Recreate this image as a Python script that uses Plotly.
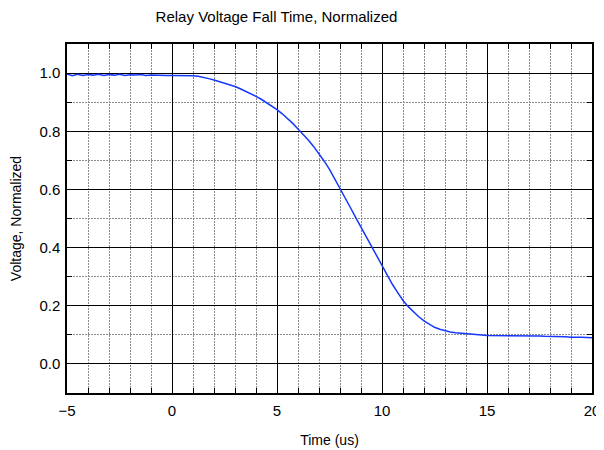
import plotly.graph_objects as go

time_us = [-5 + 0.25 * i for i in range(101)]
voltage = [
    0.997, 0.991, 0.996, 0.992, 0.995, 0.993, 0.996, 0.992, 0.995, 0.993,
    0.996, 0.992, 0.994, 0.993, 0.995, 0.992, 0.993, 0.992, 0.993, 0.992,
    0.992, 0.992, 0.992, 0.992, 0.991,
    0.989, 0.986, 0.981, 0.976, 0.971, 0.966, 0.960, 0.954, 0.946, 0.938,
    0.929, 0.920, 0.910, 0.899, 0.887, 0.874, 0.860, 0.845, 0.827, 0.808,
    0.789, 0.769, 0.747, 0.724, 0.697, 0.669, 0.637, 0.603, 0.570, 0.537,
    0.503, 0.470, 0.436, 0.402, 0.369, 0.336, 0.303, 0.273, 0.245, 0.218,
    0.197, 0.178, 0.162, 0.148, 0.136, 0.126, 0.119, 0.114, 0.110, 0.107,
    0.105, 0.103, 0.101, 0.100, 0.099, 0.098, 0.098, 0.098, 0.097, 0.097,
    0.097, 0.098, 0.097, 0.097, 0.096, 0.096, 0.095, 0.095, 0.094, 0.095,
    0.093, 0.092, 0.093, 0.092, 0.091, 0.090,
]

title_text = "Relay Voltage Fall Time, Normalized"
x_title = "Time (us)"
y_title = "Voltage, Normalized"

fig = go.Figure()
fig.add_trace(go.Scatter(x=time_us, y=voltage, mode="lines",
                         line=dict(color="#1438ff", width=1.5),
                         showlegend=False))

font = "Liberation Sans, Arial, sans-serif"
axis_common = dict(
    showline=True, linecolor="black", linewidth=1.5, mirror="allticks",
    ticks="inside", ticklen=9, tickcolor="black", tickwidth=1.2,
    showgrid=True, gridcolor="black", gridwidth=1,
    zeroline=False, automargin=False,
    tickfont=dict(family=font, size=15, color="black"),
)
minor_common = dict(ticks="inside", ticklen=5, tickcolor="black", tickwidth=1,
                    showgrid=True, gridcolor="#8c8c8c", griddash="2px,1px", gridwidth=1)

fig.update_xaxes(
    range=[-5, 20], tick0=-5, dtick=5, ticklabelstandoff=3,
    title=dict(text=x_title, font=dict(family=font, size=14, color="black"), standoff=17),
    minor=dict(dtick=1, **minor_common),
    **axis_common,
)
fig.update_yaxes(
    range=[-0.1, 1.1], tick0=0, dtick=0.2, tickformat=".1f", ticklabelstandoff=2,
    title=dict(text=y_title, font=dict(family=font, size=14, color="black"), standoff=14),
    minor=dict(dtick=0.1, **minor_common),
    **axis_common,
)

# The page body has an 8px margin, so the figure is offset by (8, 8).
fig.update_layout(
    width=596, height=442,
    margin=dict(l=59, r=12, t=36, b=57),
    paper_bgcolor="white", plot_bgcolor="white",
    title=dict(text=title_text, x=0.4505, xanchor="center", y=0.98, yanchor="middle",
               font=dict(family=font, size=15, color="black")),
)

fig.write_html("out.html")
